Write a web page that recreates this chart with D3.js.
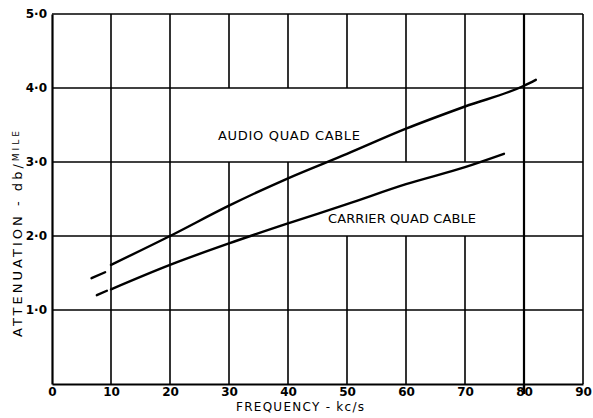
<!DOCTYPE html>
<html>
<head>
<meta charset="utf-8">
<script src="https://cdn.jsdelivr.net/npm/d3@7"></script>
<style>
  html, body { margin: 0; padding: 0; background: #fff; }
  svg { display: block; }
  text { font-family: "DejaVu Sans", sans-serif; fill: #000; }
</style>
</head>
<body>
<div id="chart"></div>
<script>
// Frequency ticks (kc/s) and attenuation ticks (db/mile)
const freqTicks = [0, 10, 20, 30, 40, 50, 60, 70, 80, 90];
const attTicks = [1, 2, 3, 4, 5];
const attTickLabels = ["1·0", "2·0", "3·0", "4·0", "5·0"];

// Audio quad cable: short lead-in stroke, then the main curve
const audioLeadFreq = [6.7, 9.0];
const audioLeadAtt = [1.43, 1.51];
const audioFreq = [10, 20, 30, 40, 50, 60, 70, 80, 82];
const audioAtt = [1.61, 2.0, 2.41, 2.78, 3.11, 3.45, 3.75, 4.03, 4.11];

// Carrier quad cable: short lead-in stroke, then the main curve
const carrierLeadFreq = [7.6, 9.3];
const carrierLeadAtt = [1.20, 1.26];
const carrierFreq = [10, 20, 30, 40, 50, 60, 70, 76.6];
const carrierAtt = [1.28, 1.61, 1.90, 2.17, 2.43, 2.70, 2.93, 3.11];

// Vertical grid lines are left open where the curve captions sit
const vGridFreq = [10, 20, 30, 40, 50, 60, 70, 80];
const vGridSpans = [
  [[0, 5]],
  [[0, 5]],
  [[0, 3], [4, 5]],
  [[0, 3], [4, 5]],
  [[0, 2], [4, 5]],
  [[0, 2], [3, 5]],
  [[0, 2], [3, 5]],
  [[0, 5]]
];

const W = 593, H = 418;
const margin = { left: 52, right: 10, top: 14, bottom: 34 };

const svg = d3.select("#chart").append("svg")
  .attr("width", W).attr("height", H);

const x = d3.scaleLinear().domain([0, 90]).range([margin.left, W - margin.right]);
const y = d3.scaleLinear().domain([0, 5]).range([H - margin.bottom, margin.top]);

const grid = svg.append("g").attr("stroke", "#000").attr("fill", "none");

// horizontal grid lines
grid.selectAll("line.h").data(attTicks.slice(0, 4)).join("line")
  .attr("class", "h")
  .attr("x1", x(0)).attr("x2", x(90))
  .attr("y1", d => y(d)).attr("y2", d => y(d))
  .attr("stroke-width", 1.4);

// vertical grid lines, drawn span by span
vGridFreq.forEach((f, i) => {
  grid.selectAll(null).data(vGridSpans[i]).join("line")
    .attr("x1", x(f)).attr("x2", x(f))
    .attr("y1", s => y(s[0])).attr("y2", s => y(s[1]))
    .attr("stroke-width", f === 80 ? 2.2 : 1.6);
});

// frame: top and right edges
grid.append("line").attr("x1", x(0)).attr("x2", x(90))
  .attr("y1", y(5)).attr("y2", y(5)).attr("stroke-width", 1.6);
grid.append("line").attr("x1", x(90)).attr("x2", x(90))
  .attr("y1", y(0)).attr("y2", y(5)).attr("stroke-width", 1.6);

// axes
const xAxis = d3.axisBottom(x).tickValues(freqTicks).tickSize(0).tickPadding(3)
  .tickFormat(d3.format("d"));
const yAxis = d3.axisLeft(y).tickValues(attTicks).tickSize(0).tickPadding(5)
  .tickFormat((d, i) => attTickLabels[i]);

const gx = svg.append("g").attr("transform", `translate(0,${y(0)})`).call(xAxis);
const gy = svg.append("g").attr("transform", `translate(${x(0)},0)`).call(yAxis);

[gx, gy].forEach(g => {
  g.select(".domain").attr("stroke", "#000").attr("stroke-width", 2.2);
  g.selectAll("text")
    .attr("font-size", 12).attr("font-weight", "bold")
    .attr("font-family", "DejaVu Sans, sans-serif").attr("fill", "#000");
});

// the 80 line runs on through its tick label
grid.raise();
svg.append("line").attr("stroke", "#000").attr("stroke-width", 2.4)
  .attr("x1", x(80)).attr("x2", x(80))
  .attr("y1", y(0)).attr("y2", y(0) + 10);

// curves
const line = d3.line().x(d => x(d[0])).y(d => y(d[1])).curve(d3.curveMonotoneX);
const zip = (a, b) => a.map((v, i) => [v, b[i]]);

const curves = svg.append("g").attr("fill", "none").attr("stroke", "#000")
  .attr("stroke-width", 2.4).attr("stroke-linecap", "round");
[
  zip(audioLeadFreq, audioLeadAtt),
  zip(audioFreq, audioAtt),
  zip(carrierLeadFreq, carrierLeadAtt),
  zip(carrierFreq, carrierAtt)
].forEach(pts => curves.append("path").attr("d", line(pts)));

// captions
svg.append("text").attr("x", 218).attr("y", 140)
  .attr("font-size", 13).attr("textLength", 142).attr("lengthAdjust", "spacing")
  .text("AUDIO QUAD CABLE");
svg.append("text").attr("x", 328).attr("y", 223)
  .attr("font-size", 13).attr("textLength", 148).attr("lengthAdjust", "spacing")
  .text("CARRIER QUAD CABLE");

// axis titles
svg.append("text").attr("x", 236).attr("y", 411)
  .attr("font-size", 12).attr("textLength", 128).attr("lengthAdjust", "spacing")
  .text("FREQUENCY - kc/s");

const yt = svg.append("text")
  .attr("transform", `translate(22,337) rotate(-90)`)
  .attr("font-size", 13).attr("textLength", 206).attr("lengthAdjust", "spacing");
yt.append("tspan").text("ATTENUATION - db/");
yt.append("tspan").attr("font-size", 9).attr("dy", -3).text("MILE");
</script>
</body>
</html>
